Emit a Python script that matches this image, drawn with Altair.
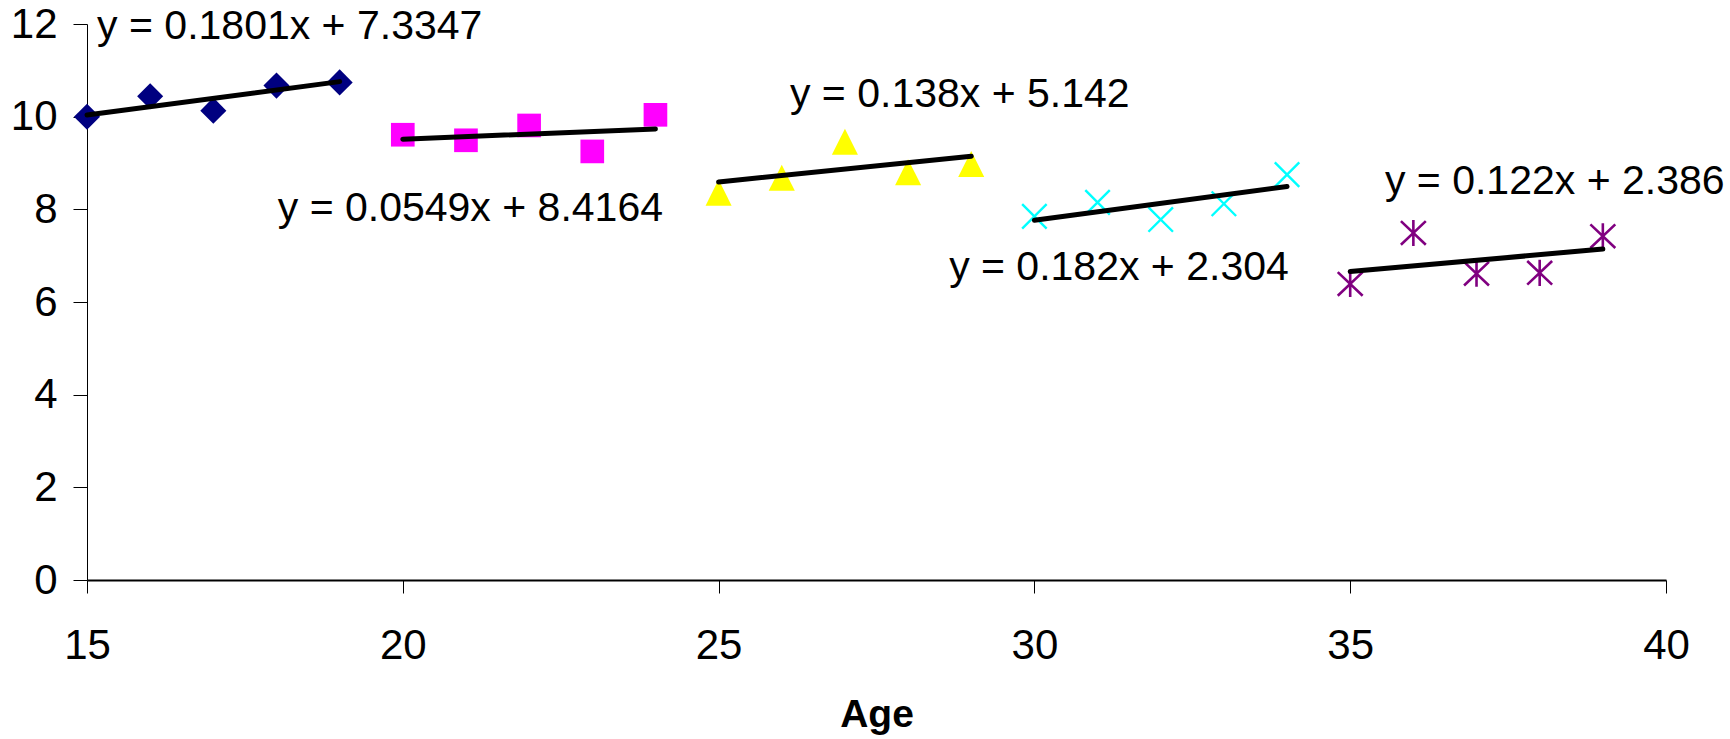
import altair as alt
import pandas as pd

# ---- data ----
ages = [15, 16, 17, 18, 19, 20, 21, 22, 23, 24, 25, 26, 27, 28, 29,
        30, 31, 32, 33, 34, 35, 36, 37, 38, 39]
values = [10.00, 10.44, 10.13, 10.67, 10.74,
          9.61, 9.49, 9.81, 9.25, 10.04,
          8.36, 8.68, 9.46, 8.80, 8.98,
          7.85, 8.15, 7.78, 8.12, 8.75,
          6.39, 7.49, 6.61, 6.63, 7.42]
group_names = ["g1", "g2", "g3", "g4", "g5"]
groups = [g for g in group_names for _ in range(5)]

# trendline equations as printed on the chart
slopes = [0.1801, 0.0549, 0.138, 0.182, 0.122]
intercepts = [7.3347, 8.4164, 5.142, 2.304, 2.386]
eq_labels = ["y = 0.1801x + 7.3347", "y = 0.0549x + 8.4164", "y = 0.138x + 5.142",
             "y = 0.182x + 2.304", "y = 0.122x + 2.386"]
eq_x = [15.16, 18.02, 26.13, 28.65, 35.55]
eq_y = [11.93, 8.00, 10.47, 6.74, 8.60]

x_ticks = [15, 20, 25, 30, 35, 40]
y_ticks = [0, 2, 4, 6, 8, 10, 12]

colors = ["#000080", "#FF00FF", "#FFFF00", "#00FFFF", "#800080"]

pts = pd.DataFrame({"age": ages, "value": values, "group": groups})

trend_rows = []
for i, g in enumerate(group_names):
    sub = pts[pts.group == g]
    for a in (sub.age.min(), sub.age.max()):
        trend_rows.append({"group": g, "age": a, "value": slopes[i] * a + intercepts[i]})
trend = pd.DataFrame(trend_rows)

labels = pd.DataFrame({"label": eq_labels, "age": eq_x, "value": eq_y})

FONT = "Liberation Sans, Arial, sans-serif"

xscale = alt.Scale(domain=[15, 40], nice=False, zero=False)
yscale = alt.Scale(domain=[0, 12], nice=False)

xaxis = alt.Axis(values=x_ticks, format="d", grid=False, tickSize=13, tickWidth=1, tickColor="black",
                 domainColor="black", domainWidth=2, labelFontSize=42, labelFont=FONT,
                 labelColor="black", labelPadding=32, labelFlush=False,
                 title="Age", titleFont=FONT, titleFontSize=39, titleFontWeight="bold",
                 titleColor="black", titleBaseline="alphabetic", titleY=146)
yaxis = alt.Axis(values=y_ticks, format="d", grid=False, tickSize=14, tickWidth=1, tickColor="black",
                 domainColor="black", domainWidth=1, labelFontSize=42, labelFont=FONT,
                 labelColor="black", labelPadding=16, title=None)

base_x = alt.X("age:Q", scale=xscale, axis=xaxis)
base_y = alt.Y("value:Q", scale=yscale, axis=yaxis)

layers = []
# filled markers
filled_specs = [("g1", "diamond", 680), ("g2", "square", 560), ("g3", "M0,-1L1,1L-1,1Z", 680)]
for g, shape, size in filled_specs:
    c = colors[group_names.index(g)]
    layers.append(
        alt.Chart(pts).transform_filter(alt.datum.group == g).mark_point(
            filled=True, shape=shape, size=size, color=c, opacity=1, strokeWidth=0
        ).encode(x=base_x, y=base_y)
    )
# stroked markers
stroked_specs = [("g4", "M-1,-1L1,1M-1,1L1,-1", 600, 2.4),
                 ("g5", "M-1,-0.95L1,0.95M-1,0.95L1,-0.95M0,-1.05L0,1.05", 620, 2.6)]
for g, shape, size, sw in stroked_specs:
    c = colors[group_names.index(g)]
    layers.append(
        alt.Chart(pts).transform_filter(alt.datum.group == g).mark_point(
            filled=False, shape=shape, size=size, stroke=c, color=c, opacity=1, strokeWidth=sw
        ).encode(x=base_x, y=base_y)
    )

trend_layer = alt.Chart(trend).mark_line(color="black", strokeWidth=5, strokeCap="round").encode(
    x=alt.X("age:Q", scale=xscale), y=alt.Y("value:Q", scale=yscale), detail="group:N"
)

label_layer = alt.Chart(labels).mark_text(
    align="left", baseline="middle", font=FONT, fontSize=41, color="black"
).encode(x=alt.X("age:Q", scale=xscale), y=alt.Y("value:Q", scale=yscale), text="label:N")

chart = alt.layer(*layers, trend_layer, label_layer).properties(
    width=1579, height=556,
    padding={"left": 87, "top": 24, "right": 64, "bottom": 159},
    autosize=alt.AutoSizeParams(type="none"),
    background="white",
).configure_view(stroke=None)

chart.save("out.html", embed_options={"renderer": "svg", "actions": False})
